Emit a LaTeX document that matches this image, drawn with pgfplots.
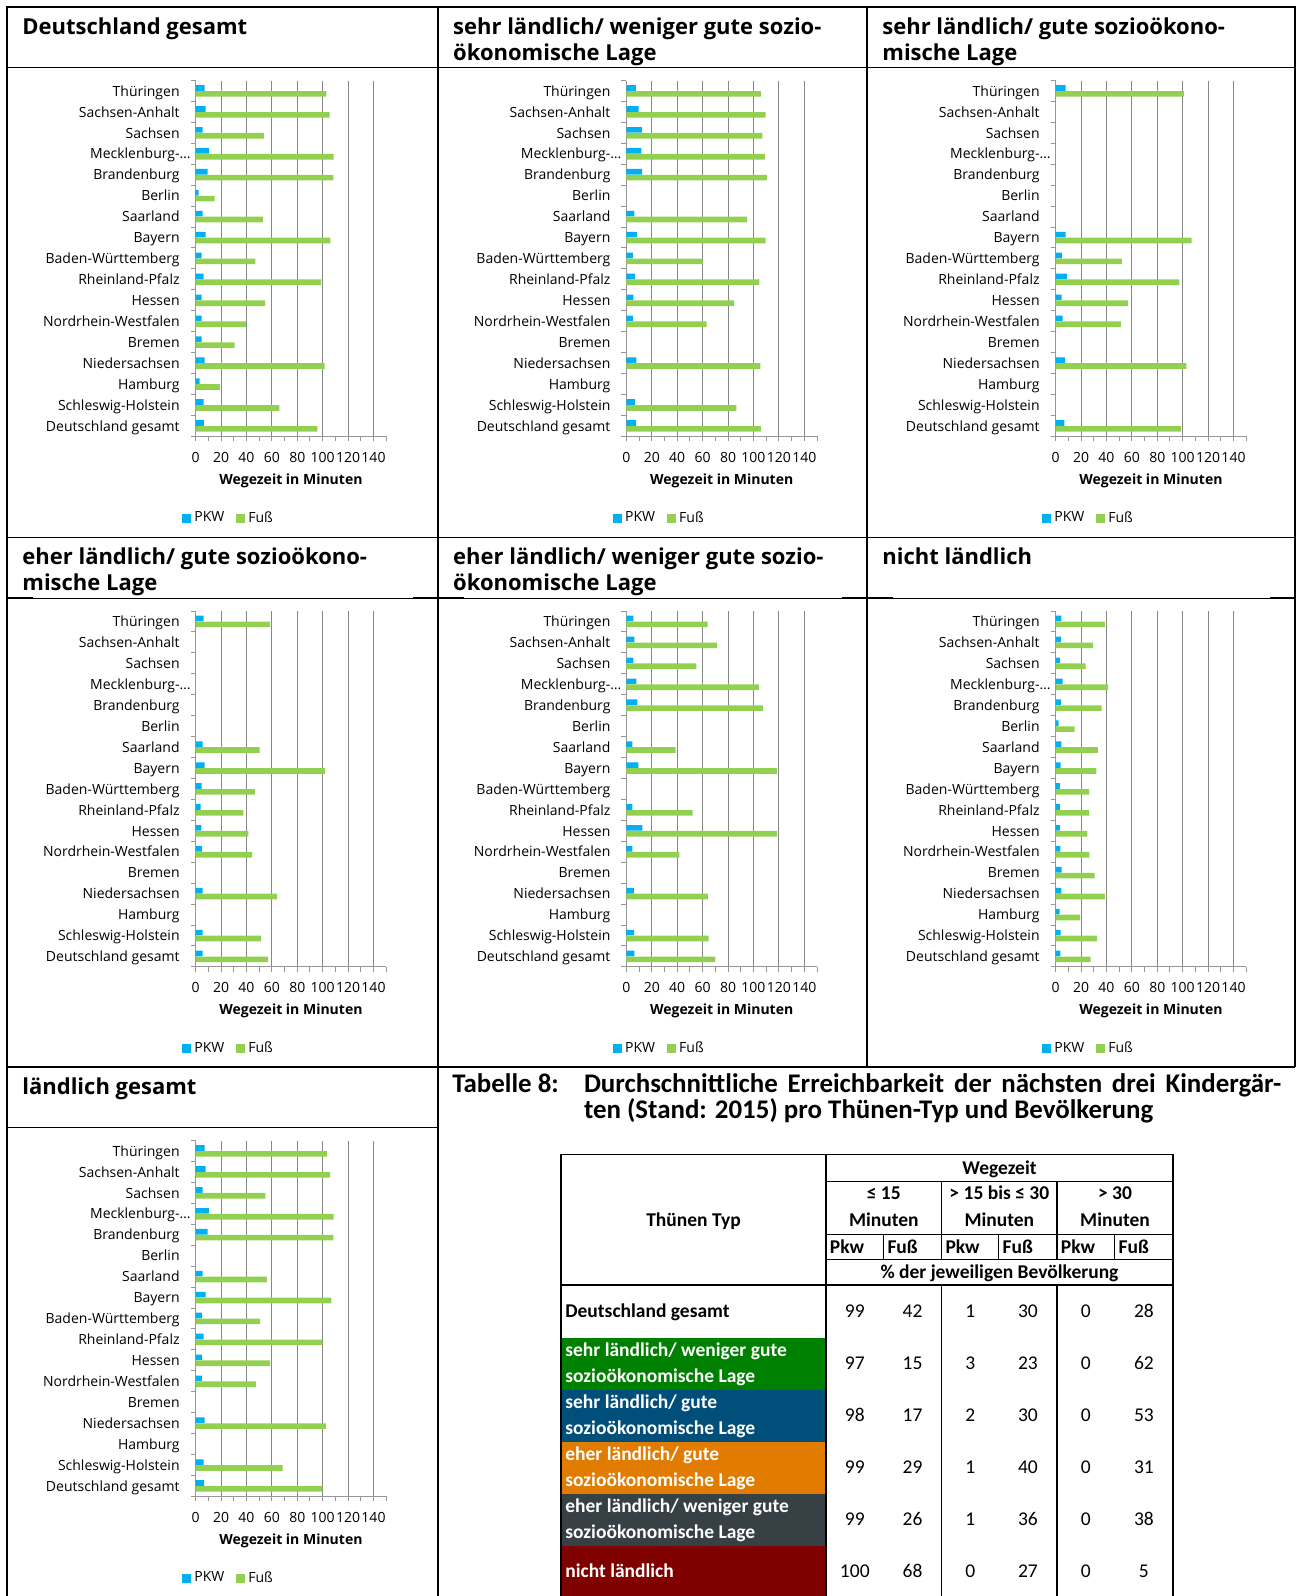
\documentclass[border=0pt]{standalone}
\usepackage{pgfplots}
\pgfplotsset{compat=1.18}
\usepackage{fontspec}
\setmainfont{Open Sans}
\newfontfamily\calibri{Carlito}
\definecolor{pkw}{RGB}{0,176,240}
\definecolor{fuss}{RGB}{146,208,80}
\definecolor{gridc}{RGB}{134,134,134}
\definecolor{axc}{RGB}{150,150,150}
\definecolor{cgreen}{RGB}{0,128,0}
\definecolor{cblue}{RGB}{0,78,122}
\definecolor{corange}{RGB}{226,124,0}
\definecolor{cslate}{RGB}{54,64,69}
\definecolor{cred}{RGB}{128,0,0}
\newcommand\chfont{\fontsize{7}{8.4}\selectfont}
\newcommand\ttlfont{\fontsize{11}{12.5}\selectfont\bfseries}
\newcommand\tbfont{\calibri\fontsize{9.75}{11}\selectfont}
\pgfplotsset{
 panel/.style={
  scale only axis, width=95.3pt, height=177.95pt, anchor=north west,
  xmin=0,xmax=150,ymin=0.5,ymax=17.5,y dir=reverse,
  axis x line*=bottom, axis y line*=left,
  axis line style={-,draw=axc,line width=0.5pt},
  every outer x axis line/.append style={-},
  every outer y axis line/.append style={-},
  xtick={0,20,...,140}, minor xtick={10,30,...,150},
  xmajorgrids, major grid style={draw=gridc,line width=0.5pt},
  ytick={1,...,17}, minor ytick={0.5,1.5,...,17.5},
  yticklabels={Thüringen\hspace{1.65pt},Sachsen-Anhalt,Sachsen,Mecklenburg-\rlap{…}\hspace{2pt},Brandenburg,Berlin,Saarland\hspace{1.65pt},Bayern,Baden-Württemberg\hspace{1.65pt},Rheinland-Pfalz,Hessen\hspace{1.65pt},Nordrhein-Westfalen,Bremen,Niedersachsen,Hamburg\hspace{1.65pt},Schleswig-Holstein,Deutschland gesamt},
  tick align=outside, major tick length=2.5pt, minor tick length=2.5pt,
  tick style={draw=axc,line width=0.5pt},
  major y tick style={draw=none},
  tick label style={font=\chfont, inner sep=0pt},
  /pgf/number format/assume math mode=true,
  yticklabel style={anchor=base east, xshift=-5.3pt, yshift=-2.6pt},
  xticklabel style={anchor=base, yshift=-10.3pt},
  xlabel={Wegezeit in Minuten},
  xlabel style={font=\chfont\bfseries, at={(axis description cs:0.5,0)}, anchor=base, inner sep=0pt, yshift=-23.8pt},
  legend style={draw=none, fill=none, font=\chfont, at={(axis description cs:0,0)}, anchor=west, xshift=-6.8pt, yshift=-41pt, inner sep=0pt, legend columns=2, nodes={inner xsep=1.5pt, inner ysep=0pt}, /tikz/every even column/.append style={column sep=4.5pt}},
  legend image code/.code={\fill[##1] (0pt,-2.25pt) rectangle (4.5pt,2.25pt);},
 },
 pkwbar/.style={xbar, bar width=0.27, bar shift=-0.14, fill=pkw, draw=none},
 fussbar/.style={xbar, bar width=0.27, bar shift=0.14, fill=fuss, draw=none},
}
\begin{document}
\begin{tikzpicture}
\begin{scope}[x=0.5pt,y=-0.5pt]
\path[use as bounding box] (0,0) rectangle (1296,1596);
% frame
\draw[line width=0.9pt] (7,1596)--(7,7)--(1295,7)--(1295,1067);
\draw[line width=0.9pt] (437.8,7)--(437.8,1596);
\draw[line width=0.9pt] (867,7)--(867,1067);
\draw[line width=0.9pt] (7,537.5)--(1295,537.5);
\draw[line width=0.9pt] (7,1067)--(1295,1067);
\foreach \L/\W/\R in {7/430.8/7,437.8/429.2/7,867/428/7,7/430.8/537.5,437.8/429.2/537.5,867/428/537.5,7/430.8/1067}{
  \draw[line width=0.5pt] (\L,\R+60.5)--(\L+\W,\R+60.5);
  \draw[line width=0.9pt] (\L,\R+60.5)--(\L+26,\R+60.5);
  \draw[line width=0.9pt] (\L+\W-25,\R+60.5)--(\L+\W,\R+60.5);
}
% panel titles
\node[anchor=base west,inner sep=0pt,font=\ttlfont] at (22,34) {Deutschland gesamt};
\node[anchor=base west,inner sep=0pt,font=\ttlfont] at (452.8,34) {sehr ländlich/ weniger gute sozio-};
\node[anchor=base west,inner sep=0pt,font=\ttlfont] at (452.8,60) {ökonomische Lage};
\node[anchor=base west,inner sep=0pt,font=\ttlfont] at (882,34) {sehr ländlich/ gute sozioökono-};
\node[anchor=base west,inner sep=0pt,font=\ttlfont] at (882,60) {mische Lage};
\node[anchor=base west,inner sep=0pt,font=\ttlfont] at (22,564.5) {eher ländlich/ gute sozioökono-};
\node[anchor=base west,inner sep=0pt,font=\ttlfont] at (22,590.5) {mische Lage};
\node[anchor=base west,inner sep=0pt,font=\ttlfont] at (452.8,564.5) {eher ländlich/ weniger gute sozio-};
\node[anchor=base west,inner sep=0pt,font=\ttlfont] at (452.8,590.5) {ökonomische Lage};
\node[anchor=base west,inner sep=0pt,font=\ttlfont] at (882,564.5) {nicht ländlich};
\node[anchor=base west,inner sep=0pt,font=\ttlfont] at (22,1094) {ländlich gesamt};
% table title
\node[anchor=base west,inner sep=0pt,font=\calibri\fontsize{13.45}{14}\selectfont\bfseries] at (452,1092.5) {Tabelle 8:};
\node[anchor=base west,inner sep=0pt,font=\calibri\fontsize{13.45}{14}\selectfont\bfseries] at (583.6,1092.5) {\makebox[348.7pt][s]{Durchschnittliche Erreichbarkeit der nächsten drei Kindergär-}};
\node[anchor=base west,inner sep=0pt,font=\calibri\fontsize{13.45}{14}\selectfont\bfseries] at (583.6,1118.8) {ten (Stand: 2015) pro Thünen-Typ und Bevölkerung};
% table fills
\fill[cgreen] (561,1337.6) rectangle (826,1389.6);
\fill[cblue] (561,1389.6) rectangle (826,1441.6);
\fill[corange] (561,1441.6) rectangle (826,1493.6);
\fill[cslate] (561,1493.6) rectangle (826,1545.6);
\fill[cred] (561,1545.6) rectangle (826,1600);
% table lines
\draw[line width=0.85pt] (561,1600)--(561,1154.5)--(1173,1154.5)--(1173,1600);
\draw[line width=0.85pt] (826,1154.5)--(826,1600);
\draw[line width=0.5pt] (826,1181)--(1173,1181);
\draw[line width=0.5pt] (826,1234)--(1173,1234);
\draw[line width=0.5pt] (826,1259)--(1173,1259);
\draw[line width=0.85pt] (561,1285)--(1173,1285);
\draw[line width=0.6pt] (941.6,1181)--(941.6,1259) (1057,1181)--(1057,1259);
\draw[line width=0.85pt] (941.6,1285)--(941.6,1600) (1057,1285)--(1057,1600);
\draw[line width=0.5pt] (883.6,1234)--(883.6,1259) (998.7,1234)--(998.7,1259) (1114.7,1234)--(1114.7,1259);
% table header
\begin{scope}[every node/.style={inner sep=0pt,font=\tbfont\bfseries}]
\node[anchor=base] at (693.5,1226) {Thünen Typ};
\node[anchor=base] at (999.5,1174) {Wegezeit};
\node[anchor=base] at (883.8,1199.5) {≤ 15};
\node[anchor=base] at (999.3,1199.5) {> 15 bis ≤ 30};
\node[anchor=base] at (1115,1199.5) {> 30};
\node[anchor=base] at (883.8,1226.8) {Minuten};
\node[anchor=base] at (999.3,1226.8) {Minuten};
\node[anchor=base] at (1115,1226.8) {Minuten};
\foreach \xx/\tt in {826/Pkw,883.6/Fuß,941.6/Pkw,998.7/Fuß,1057/Pkw,1114.7/Fuß}{
  \node[anchor=base west] at (\xx+3.5,1253) {\tt};
}
\node[anchor=base] at (999.5,1278) {\% der jeweiligen Bevölkerung};
\node[anchor=base west] at (565,1317) {Deutschland gesamt};
\node[anchor=base west,text=white] at (565,1356.6) {sehr ländlich/ weniger gute};
\node[anchor=base west,text=white] at (565,1382.1) {sozioökonomische Lage};
\node[anchor=base west,text=white] at (565,1408.6) {sehr ländlich/ gute};
\node[anchor=base west,text=white] at (565,1434.1) {sozioökonomische Lage};
\node[anchor=base west,text=white] at (565,1460.6) {eher ländlich/ gute};
\node[anchor=base west,text=white] at (565,1486.1) {sozioökonomische Lage};
\node[anchor=base west,text=white] at (565,1512.6) {eher ländlich/ weniger gute};
\node[anchor=base west,text=white] at (565,1538.1) {sozioökonomische Lage};
\node[anchor=base west,text=white] at (565,1577.6) {nicht ländlich};
\end{scope}
\begin{scope}[every node/.style={inner sep=0pt,font=\tbfont,anchor=base}]
\foreach \yy/\a/\b/\c/\d/\e/\f in {1285/99/42/1/30/0/28,1337.6/97/15/3/23/0/62,1389.6/98/17/2/30/0/53,1441.6/99/29/1/40/0/31,1493.6/99/26/1/36/0/38,1545.6/100/68/0/27/0/5}{
  \node at (854.8,\yy+32.2) {\a};
  \node at (912.6,\yy+32.2) {\b};
  \node at (970.2,\yy+32.2) {\c};
  \node at (1027.9,\yy+32.2) {\d};
  \node at (1085.9,\yy+32.2) {\e};
  \node at (1143.9,\yy+32.2) {\f};
}
\end{scope}
\end{scope}
% ---------- charts ----------
\begin{axis}[panel, at={(97.8pt,-40.25pt)}]
\addplot[pkwbar] coordinates {(7.1,1)(7.9,2)(5.5,3)(10.5,4)(9.5,5)(2.4,6)(5.5,7)(7.9,8)(4.7,9)(6.3,10)(4.7,11)(4.7,12)(4.7,13)(7.1,14)(3.2,15)(6.3,16)(6.6,17)};
\addlegendentry{PKW}
\addplot[fussbar] coordinates {(102.9,1)(105.5,2)(53.7,3)(108.7,4)(108.4,5)(15,6)(52.9,7)(106,8)(47.1,9)(98.7,10)(54.7,11)(39.7,12)(30.8,13)(101.6,14)(19.2,15)(66,16)(95.8,17)};
\addlegendentry{Fuß}
\end{axis}
\begin{axis}[panel, at={(313.2pt,-40.25pt)}]
\addplot[pkwbar] coordinates {(7.4,1)(9.7,2)(12.1,3)(11.8,4)(12.4,5)(6.3,7)(8.2,8)(5,9)(6.8,10)(5.5,11)(5,12)(7.9,14)(6.6,16)(7.6,17)};
\addlegendentry{PKW}
\addplot[fussbar] coordinates {(105.8,1)(109.5,2)(107.1,3)(108.9,4)(110.5,5)(95,7)(109.5,8)(60,9)(104.7,10)(84.7,11)(63.2,12)(105.5,14)(86.6,16)(105.8,17)};
\addlegendentry{Fuß}
\end{axis}
\begin{axis}[panel, at={(527.8pt,-40.25pt)}]
\addplot[pkwbar] coordinates {(7.9,1)(7.9,8)(5,9)(8.9,10)(4.7,11)(5.5,12)(7.4,14)(6.8,17)};
\addlegendentry{PKW}
\addplot[fussbar] coordinates {(101,1)(107.1,8)(52.1,9)(97.4,10)(57.1,11)(51.3,12)(102.9,14)(98.7,17)};
\addlegendentry{Fuß}
\end{axis}
\begin{axis}[panel, at={(97.8pt,-305.5pt)}]
\addplot[pkwbar] coordinates {(6.3,1)(5.5,7)(7.1,8)(4.7,9)(3.9,10)(4.5,11)(5,12)(5.5,14)(5.5,16)(5.5,17)};
\addlegendentry{PKW}
\addplot[fussbar] coordinates {(58.7,1)(50.3,7)(101.8,8)(46.6,9)(37.6,10)(41.6,11)(44.5,12)(64.2,14)(51.3,16)(57.1,17)};
\addlegendentry{Fuß}
\end{axis}
\begin{axis}[panel, at={(313.2pt,-305.5pt)}]
\addplot[pkwbar] coordinates {(5.5,1)(6.3,2)(5.5,3)(7.9,4)(8.7,5)(4.7,7)(9.5,8)(4.7,10)(12.6,11)(4.7,12)(5.8,14)(6.1,16)(6.3,17)};
\addlegendentry{PKW}
\addplot[fussbar] coordinates {(63.9,1)(71.1,2)(55,3)(104.2,4)(107.6,5)(38.7,7)(118.4,8)(52.1,10)(118.7,11)(41.6,12)(64.2,14)(64.7,16)(70,17)};
\addlegendentry{Fuß}
\end{axis}
\begin{axis}[panel, at={(527.8pt,-305.5pt)}]
\addplot[pkwbar] coordinates {(4.5,1)(4.2,2)(3.4,3)(5.5,4)(4.2,5)(2.4,6)(4.5,7)(3.9,8)(3.4,9)(3.4,10)(3.4,11)(3.7,12)(4.7,13)(4.5,14)(3.2,15)(3.9,16)(3.7,17)};
\addlegendentry{PKW}
\addplot[fussbar] coordinates {(38.7,1)(29.5,2)(23.7,3)(41.3,4)(36.3,5)(15,6)(33.2,7)(32.1,8)(26.3,9)(26.3,10)(25,11)(26.6,12)(30.8,13)(38.7,14)(19.2,15)(32.6,16)(27.6,17)};
\addlegendentry{Fuß}
\end{axis}
\begin{axis}[panel, at={(97.8pt,-570.25pt)}]
\addplot[pkwbar] coordinates {(7.1,1)(7.9,2)(5.5,3)(10.5,4)(9.5,5)(5.5,7)(7.9,8)(5,9)(6.3,10)(5,11)(5,12)(7.1,14)(6.3,16)(6.8,17)};
\addlegendentry{PKW}
\addplot[fussbar] coordinates {(103.4,1)(105.8,2)(55,3)(108.7,4)(108.4,5)(56.1,7)(106.8,8)(50.8,9)(99.7,10)(58.7,11)(47.4,12)(102.6,14)(68.4,16)(99.7,17)};
\addlegendentry{Fuß}
\end{axis}
\end{tikzpicture}
\end{document}
